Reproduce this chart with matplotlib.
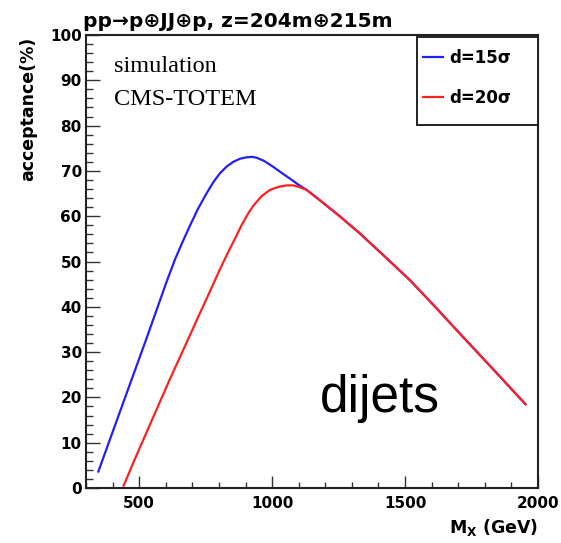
import matplotlib
matplotlib.use("Agg")
import matplotlib.pyplot as plt
from matplotlib.ticker import MultipleLocator
from matplotlib.patches import Rectangle

# Data
mx_d15 = [345, 385, 425, 480, 525, 565, 601, 635, 663, 691, 720, 754, 780, 804, 830,
          854, 880, 904, 925, 942, 970, 1004, 1035, 1067, 1100, 1130, 1180, 1250,
          1330, 1420, 1518, 1610, 1706, 1830, 1956]
acc_d15 = [3.4, 9.9, 16.4, 25.3, 32.6, 39.2, 45.2, 50.5, 54.3, 57.9, 61.5, 65.1, 67.6, 69.5, 71.0,
           72.0, 72.7, 73.0, 73.1, 72.9, 72.2, 70.9, 69.6, 68.3, 66.9, 65.8, 63.5, 60.2,
           56.2, 51.3, 45.9, 40.2, 34.1, 26.3, 18.3]

mx_d20 = [440, 475, 513, 551, 613, 676, 720, 763, 800, 830, 860, 885, 910, 929, 960,
          992, 1025, 1054, 1080, 1104, 1130, 1180, 1250, 1330, 1420, 1518, 1610, 1706,
          1830, 1956]
acc_d20 = [0.3, 5.2, 10.3, 15.4, 23.7, 31.8, 37.5, 43.0, 47.8, 51.5, 55.0, 58.0, 60.6, 62.3, 64.4,
           65.8, 66.5, 66.8, 66.8, 66.4, 65.8, 63.5, 60.2, 56.2, 51.3, 45.9, 40.2, 34.1,
           26.3, 18.3]

series_labels = ["d=15σ", "d=20σ"]
x_ticks = [500, 1000, 1500, 2000]
y_ticks = [0, 10, 20, 30, 40, 50, 60, 70, 80, 90, 100]

W, H = 561, 543
fig = plt.figure(figsize=(W / 100, H / 100), dpi=100)
ax = fig.add_axes([86 / W, 1 - 488 / H, (538 - 86) / W, (488 - 35) / H])

bold = dict(family=["DejaVu Sans"], weight="bold")

ax.plot(mx_d15, acc_d15, color="#2020ff", lw=1.6, label=series_labels[0],
        solid_joinstyle="round", solid_capstyle="butt")
ax.plot(mx_d20, acc_d20, color="#ff2020", lw=1.6, label=series_labels[1],
        solid_joinstyle="round", solid_capstyle="butt")

ax.set_xlim(300, 2000)
ax.set_ylim(0, 100)
ax.set_xticks(x_ticks)
ax.set_yticks(y_ticks)
ax.xaxis.set_minor_locator(MultipleLocator(100))
ax.yaxis.set_minor_locator(MultipleLocator(2))
ax.tick_params(which="both", direction="in", top=False, right=False, width=1.0, color="#333333")
ax.tick_params(which="major", axis="y", length=10, pad=3)
ax.tick_params(which="minor", axis="y", length=5)
ax.tick_params(which="major", axis="x", length=9, pad=6)
ax.tick_params(which="minor", axis="x", length=4.5)
for lab in ax.get_xticklabels() + ax.get_yticklabels():
    lab.set_fontfamily("DejaVu Sans")
    lab.set_fontweight("bold")
    lab.set_fontsize(11)
for sp in ax.spines.values():
    sp.set_linewidth(1.5)
    sp.set_color("#222222")

# Title
fig.text(83 / W, 1 - 27 / H, "pp→p⊕JJ⊕p, z=204m⊕215m", ha="left", va="baseline",
         fontsize=14.5, **bold)
# Y label
fig.text(28 / W, 1 - 37 / H, "acceptance(%)", rotation=90, ha="center", va="top",
         fontsize=12.5, **bold)
# X label
fig.text(538 / W, 1 - 527 / H, r"M$_{\mathbf{X}}$ (GeV)", ha="right", va="center",
         fontsize=12.5, **bold)

# Annotations
fig.text(114 / W, 1 - 72 / H, "simulation", ha="left", va="baseline",
         fontsize=17.5, family=["Liberation Serif"])
fig.text(114 / W, 1 - 105 / H, "CMS-TOTEM", ha="left", va="baseline",
         fontsize=17.5, family=["Liberation Serif"])
fig.text(320 / W, 1 - 412 / H, "dijets", ha="left", va="baseline",
         fontsize=37, family=["Liberation Sans"])

# Legend box
x0 = (417 - 86) / 452
y0 = (488 - 125) / 453
ax.add_patch(Rectangle((x0, y0), 1 - x0, (488 - 37) / 453 - y0, transform=ax.transAxes,
                       fill=True, facecolor="white", edgecolor="#111111", lw=1.3, zorder=5))
leg = ax.legend(loc="upper left", bbox_to_anchor=((422 - 86) / 452, (488 - 49) / 453),
                frameon=False, borderpad=0, borderaxespad=0, handlelength=1.3,
                handletextpad=0.35, labelspacing=1.3,
                prop=dict(family="DejaVu Sans", weight="bold", size=12))
leg.set_zorder(6)

fig.savefig("out.png", dpi=100)
